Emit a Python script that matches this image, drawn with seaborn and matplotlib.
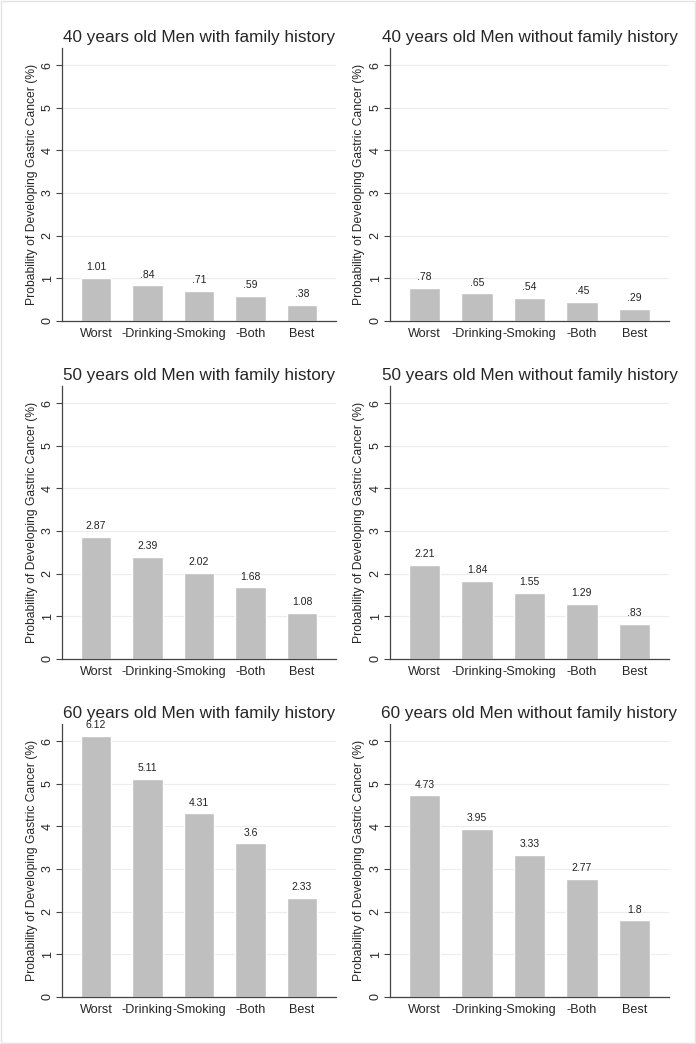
import matplotlib.pyplot as plt
import pandas as pd
import seaborn as sns
from matplotlib.patches import Rectangle

# Scenario labels on the x axis
scenarios = ['Worst', '-Drinking', '-Smoking', '-Both', 'Best']

# Panel titles (row by row, left then right)
titles = ['40 years old Men with family history', '40 years old Men without family history',
          '50 years old Men with family history', '50 years old Men without family history',
          '60 years old Men with family history', '60 years old Men without family history']

# Probabilities (%) per panel
men40_fh = [1.01, 0.84, 0.71, 0.59, 0.38]
men40_nofh = [0.78, 0.65, 0.54, 0.45, 0.29]
men50_fh = [2.87, 2.39, 2.02, 1.68, 1.08]
men50_nofh = [2.21, 1.84, 1.55, 1.29, 0.83]
men60_fh = [6.12, 5.11, 4.31, 3.6, 2.33]
men60_nofh = [4.73, 3.95, 3.33, 2.77, 1.8]

series = [men40_fh, men40_nofh, men50_fh, men50_nofh, men60_fh, men60_nofh]

sns.set_style('white')
plt.rcParams['font.family'] = ['Liberation Sans', 'DejaVu Sans']


def stata_fmt(v):
    s = f'{v:g}'
    if s.startswith('0.'):
        s = s[1:]
    return s


fig = plt.figure(figsize=(6.96, 10.44), dpi=100)
W, H = 696, 1044

# axes boxes in pixels: (left, right) per column, (top, bottom) per row
cols = [(62, 336), (390, 669)]
rows = [(48, 321), (386, 659), (724, 997)]

for i, vals in enumerate(series):
    r, c = divmod(i, 2)
    x0, x1 = cols[c]
    y0, y1 = rows[r]
    ax = fig.add_axes([x0 / W, 1 - y1 / H, (x1 - x0) / W, (y1 - y0) / H])
    df = pd.DataFrame({'scenario': scenarios, 'prob': vals})
    sns.barplot(data=df, x='scenario', y='prob', color='#bfbfbf', saturation=1,
                width=0.6, ax=ax, zorder=2)
    ax.bar_label(ax.containers[0], labels=[stata_fmt(v) for v in vals],
                 padding=4, fontsize=7.5, color='#222222')
    ax.set_xlim(-0.66, 4.66)
    ax.set_ylim(0, 6.4)
    ax.set_yticks(range(0, 7))
    ax.yaxis.grid(True, color='#ececec', linewidth=0.8, zorder=0)
    ax.set_axisbelow(True)
    for s in ['top', 'right']:
        ax.spines[s].set_visible(False)
    for s in ['left', 'bottom']:
        ax.spines[s].set_color('#444444')
        ax.spines[s].set_linewidth(0.9)
    ax.tick_params(axis='y', length=4, width=0.8, color='#444444', labelsize=9,
                   labelrotation=90, pad=2, left=True)
    for lab in ax.get_yticklabels():
        lab.set_va('center')
    ax.tick_params(axis='x', length=0, labelsize=9.1, pad=5)
    ax.set_xlabel('')
    ax.set_ylabel('Probability of Developing Gastric Cancer (%)', fontsize=8.7, labelpad=3)
    ax.set_title(titles[i], fontsize=12.3, pad=4)

# faint outer border
fig.add_artist(Rectangle((0.001, 0.001), 0.998, 0.998, transform=fig.transFigure,
                         fill=False, edgecolor='#e3e3e3', linewidth=1))

fig.savefig('out.png', dpi=100)
